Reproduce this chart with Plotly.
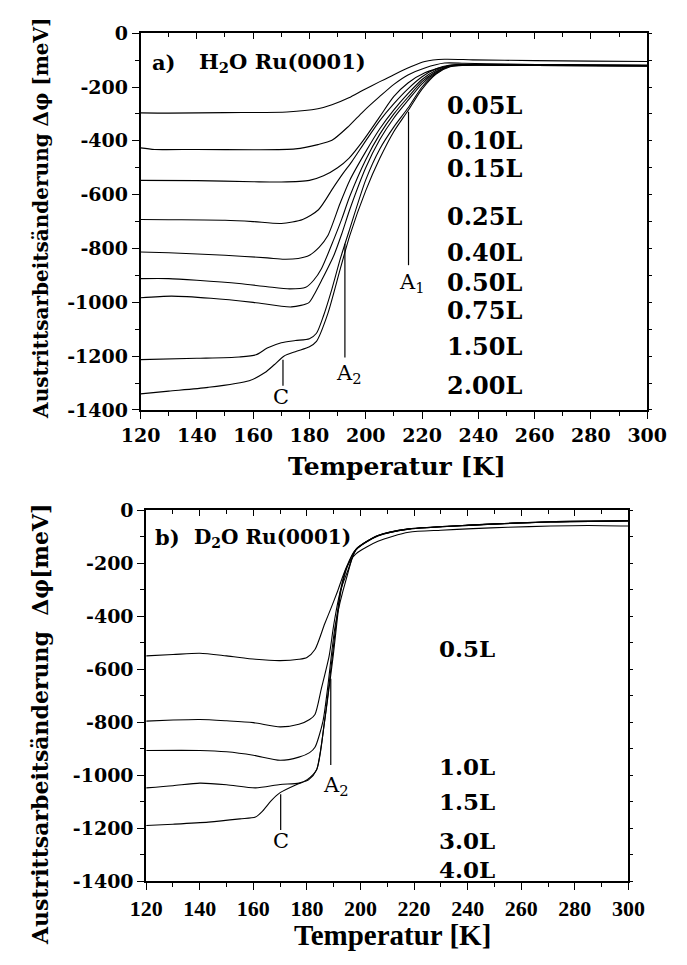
import plotly.graph_objects as go

# ---------------- (a) H2O on Ru(0001) ----------------
h2o_labels = ["0.05L", "0.10L", "0.15L", "0.25L", "0.40L", "0.50L", "0.75L", "1.50L", "2.00L"]
h2o_label_y = [-268, -400, -504, -680, -813, -925, -1031, -1164, -1310]

h2o_005_T = [120, 130, 150, 172, 183, 188, 194, 199, 205, 210, 216, 221, 228, 238, 260, 280, 300]
h2o_005_v = [-296, -297, -295, -293, -281, -266, -240, -212, -180, -154, -125, -105, -97, -99, -102, -104, -105]

h2o_010_T = [120, 125, 140, 160, 175, 183, 188, 194, 199, 205, 210, 215, 221, 228, 235, 250, 270, 300]
h2o_010_v = [-426, -432, -432, -433, -430, -414, -398, -345, -292, -235, -190, -155, -129, -111, -112, -115, -117, -118]

h2o_015_T = [120, 140, 160, 170, 180, 185, 190, 194, 199, 205, 210, 215, 221, 230, 240, 260, 300]
h2o_015_v = [-547, -548, -552, -553, -547, -530, -500, -465, -400, -310, -235, -185, -147, -120, -117, -118, -120]

h2o_025_T = [120, 130, 150, 160, 170, 177.6, 183.2, 188.7, 192, 195, 200, 205, 210, 215, 220, 225, 230, 240, 260, 280, 300]
h2o_025_v = [-692, -693, -695, -700, -707, -692, -656, -570, -520, -478, -400, -325, -262, -207, -162, -132, -118, -116, -118, -119, -120]

h2o_040_T = [120, 130, 150, 165, 171, 176, 180, 183.5, 186.5, 190.9, 194.3, 200, 205, 210, 215, 220, 225, 230, 240, 260, 300]
h2o_040_v = [-813, -816, -825, -835, -840, -837, -825, -795, -753, -632, -547, -440, -355, -285, -225, -172, -138, -120, -117, -119, -121]

h2o_050_T = [120, 130, 140, 155, 165, 173, 178.7, 181.5, 184.3, 188.7, 191.5, 194.3, 200, 205, 210, 215, 220, 225, 230, 240, 260, 300]
h2o_050_v = [-912, -912, -918, -930, -942, -950, -944, -918, -874, -765, -690, -607, -470, -375, -300, -238, -180, -142, -121, -117, -119, -121]

h2o_075_T = [120, 131, 145, 160, 173.6, 179.8, 182, 184.3, 188.7, 191.5, 194.3, 200, 205, 210, 215, 220, 225, 230, 240, 260, 300]
h2o_075_v = [-983, -977, -985, -1000, -1017, -1001, -965, -919, -825, -745, -656, -500, -395, -315, -250, -188, -146, -122, -118, -120, -122]

h2o_150_T = [120, 140, 155, 161, 165, 170, 175, 180, 182.5, 185, 188, 191, 194.3, 200, 205, 210, 215, 220, 225, 230, 240, 260, 300]
h2o_150_v = [-1213, -1208, -1203, -1195, -1170, -1150, -1142, -1135, -1115, -1050, -950, -837, -728, -545, -430, -348, -278, -200, -150, -123, -118, -120, -122]

h2o_200_T = [120, 130, 144, 158.6, 164.2, 167.5, 170.9, 175.4, 180, 182.5, 186.5, 191, 194.3, 200, 205, 210, 215, 220, 225, 230, 240, 260, 300]
h2o_200_v = [-1340, -1330, -1316, -1291, -1261, -1232, -1200, -1182, -1165, -1145, -1043, -874, -753, -585, -465, -365, -288, -208, -152, -125, -118, -120, -122]

h2o_T = [h2o_005_T, h2o_010_T, h2o_015_T, h2o_025_T, h2o_040_T, h2o_050_T, h2o_075_T, h2o_150_T, h2o_200_T]
h2o_v = [h2o_005_v, h2o_010_v, h2o_015_v, h2o_025_v, h2o_040_v, h2o_050_v, h2o_075_v, h2o_150_v, h2o_200_v]

# ---------------- (b) D2O on Ru(0001) ----------------
d2o_labels = ["0.5L", "1.0L", "1.5L", "3.0L", "4.0L"]
d2o_label_y = [-521, -967, -1100, -1245, -1355]

d2o_05_T = [120, 130, 140, 150, 160.8, 170, 177, 180, 183, 186.6, 189, 191.3, 194.8, 198.3, 206.5, 218, 230, 242, 255, 271, 285, 300]
d2o_05_v = [-550, -545, -540, -550, -563, -568, -563, -556, -526, -430, -370, -310, -215, -165, -118, -84, -76, -70, -65, -60, -58, -60]

d2o_10_T = [120, 130, 140, 150, 160, 170, 177, 181, 183, 185.4, 188.3, 190.1, 192.5, 195.4, 198.3, 206.5, 218, 242, 271, 300]
d2o_10_v = [-796, -792, -790, -795, -802, -818, -808, -790, -771, -673, -550, -427, -305, -225, -150, -98, -72, -57, -45, -41]

d2o_15_T = [120, 140, 150, 160, 170, 177, 181, 183, 186, 187.7, 190.7, 194.8, 198.3, 206.5, 218, 242, 271, 300]
d2o_15_v = [-907, -907, -912, -925, -944, -932, -915, -895, -796, -673, -427, -256, -150, -97, -72, -57, -45, -41]

d2o_30_T = [120, 130, 140, 150, 160.8, 170, 177, 180.1, 183.6, 186.6, 189.5, 192.5, 195, 198.3, 206.5, 218, 242, 271, 300]
d2o_30_v = [-1048, -1040, -1030, -1036, -1048, -1035, -1030, -1017, -980, -796, -550, -305, -210, -148, -96, -71, -56, -44, -40]

d2o_40_T = [120, 130, 143.2, 155, 160.8, 163.5, 166.6, 170, 176, 180.7, 183.6, 186.6, 189.8, 192.7, 195.2, 198.3, 206.5, 218, 242, 271, 300]
d2o_40_v = [-1190, -1185, -1177, -1165, -1158, -1135, -1097, -1066, -1036, -1017, -980, -796, -550, -305, -210, -148, -96, -71, -56, -44, -40]

d2o_T = [d2o_05_T, d2o_10_T, d2o_15_T, d2o_30_T, d2o_40_T]
d2o_v = [d2o_05_v, d2o_10_v, d2o_15_v, d2o_30_v, d2o_40_v]

x_ticks = list(range(120, 301, 20))
x_ticktext = [str(t) for t in x_ticks]
y_ticks = list(range(-1400, 1, 200))
y_ticktext = [str(t) for t in y_ticks]   # plain hyphen as minus sign

W, H = 687, 965
SERIF = "DejaVu Serif"

fig = go.Figure()

for T, v in zip(h2o_T, h2o_v):
    fig.add_trace(go.Scatter(x=T, y=v, mode="lines", xaxis="x", yaxis="y",
                             line=dict(color="black", width=1.1, shape="spline", smoothing=0.7),
                             showlegend=False, hoverinfo="skip"))
for T, v in zip(d2o_T, d2o_v):
    fig.add_trace(go.Scatter(x=T, y=v, mode="lines", xaxis="x2", yaxis="y2",
                             line=dict(color="black", width=1.1, shape="spline", smoothing=0.7),
                             showlegend=False, hoverinfo="skip"))

# panel geometry (paper fractions)
top_x = [128 / W, 666 / W]
top_y = [1 - 408.3 / H, 1 - 22.7 / H]
bot_x = [134 / W, 646 / W]
bot_y = [1 - 890.5 / H, 1 - 510.7 / H]

tickfont = dict(family=SERIF, size=19, color="black", weight="bold")
bot_xfont = dict(family="Liberation Serif", size=22, color="black", weight="bold")


def xax(domain, anchor, font, **kw):
    return dict(domain=domain, anchor=anchor, range=[120, 300], tickvals=x_ticks, ticktext=x_ticktext,
                ticks="outside", ticklen=7, tickwidth=1.3, tickcolor="black",
                minor=dict(dtick=10, tick0=120, ticks="outside", ticklen=4, tickwidth=1.2, tickcolor="black"),
                showline=True, linecolor="black", linewidth=1.6, showgrid=False, zeroline=False,
                tickfont=font, fixedrange=True, **kw)


def yax(domain, anchor, **kw):
    return dict(domain=domain, anchor=anchor, range=[-1400, 0], tickvals=y_ticks, ticktext=y_ticktext,
                ticks="outside", ticklen=7, tickwidth=1.3, tickcolor="black",
                minor=dict(dtick=100, tick0=0, ticks="outside", ticklen=4, tickwidth=1.2, tickcolor="black"),
                showline=True, linecolor="black", linewidth=1.6, showgrid=False, zeroline=False,
                tickfont=tickfont, fixedrange=True, **kw)


def xmirror(domain, anchor, over):
    return dict(domain=domain, anchor=anchor, overlaying=over, side="top", range=[120, 300],
                tickvals=x_ticks, ticks="inside", ticklen=6, tickwidth=1.2, tickcolor="black",
                minor=dict(dtick=10, tick0=120, ticks="inside", ticklen=4, tickwidth=1.1, tickcolor="black"),
                showticklabels=False, showline=True, linecolor="black", linewidth=1.6,
                showgrid=False, zeroline=False, fixedrange=True)


def ymirror(domain, anchor, over):
    return dict(domain=domain, anchor=anchor, overlaying=over, side="right", range=[-1400, 0],
                tickvals=y_ticks, ticks="outside", ticklen=3, tickwidth=1.1, tickcolor="black",
                minor=dict(dtick=100, tick0=0, ticks="outside", ticklen=3, tickwidth=1.1, tickcolor="black"),
                showticklabels=False, showline=True, linecolor="black", linewidth=1.6,
                showgrid=False, zeroline=False, fixedrange=True)


fig.update_layout(
    width=W, height=H, margin=dict(l=0, r=0, t=0, b=0),
    paper_bgcolor="white", plot_bgcolor="white",
    xaxis=xax(top_x, "y", tickfont),
    yaxis=yax(top_y, "x"),
    xaxis2=xax(bot_x, "y2", bot_xfont),
    yaxis2=yax(bot_y, "x2"),
    xaxis3=xmirror(top_x, "y", "x"),
    yaxis3=ymirror(top_y, "x", "y"),
    xaxis4=xmirror(bot_x, "y2", "x2"),
    yaxis4=ymirror(bot_y, "x2", "y2"),
)
# empty traces so the mirror axes are drawn
fig.add_trace(go.Scatter(x=[None], y=[None], xaxis="x3", yaxis="y3", showlegend=False))
fig.add_trace(go.Scatter(x=[None], y=[None], xaxis="x4", yaxis="y4", showlegend=False))

shapes = []
annotations = []


def marker(xref, yref, x, y0, y1):
    shapes.append(dict(type="line", xref=xref, yref=yref, x0=x, x1=x, y0=y0, y1=y1,
                       line=dict(color="black", width=1.2)))


def label(xref, yref, x, y, text, size=22, xanchor="center", family=SERIF, bold=False):
    annotations.append(dict(xref=xref, yref=yref, x=x, y=y, text=text, showarrow=False,
                            xanchor=xanchor, yanchor="middle",
                            font=dict(family=family, size=size, color="black",
                                      weight="bold" if bold else "normal")))


# panel (a) markers
marker("x", "y", 215.2, -292, -862)
marker("x", "y", 192.6, -782, -1205)
marker("x", "y", 170.6, -1213, -1310)
label("x", "y", 216.5, -930, "A<sub>1</sub>", size=21)
label("x", "y", 194.0, -1265, "A<sub>2</sub>", size=21)
label("x", "y", 169.8, -1350, "C", size=21)
for name, yv in zip(h2o_labels, h2o_label_y):
    label("x", "y", 228.3, yv, name, size=24, xanchor="left", bold=True)
label("x", "y", 123.5, -110, "a)", size=21, xanchor="left", bold=True)
label("x", "y", 140.0, -110, "H<sub>2</sub>O Ru(0001)", size=21, xanchor="left", bold=True)

# panel (b) markers
marker("x2", "y2", 188.9, -636, -962)
marker("x2", "y2", 170.2, -1072, -1207)
label("x2", "y2", 190.8, -1041, "A<sub>2</sub>", size=21)
label("x2", "y2", 170.2, -1248, "C", size=21)
for name, yv in zip(d2o_labels, d2o_label_y):
    label("x2", "y2", 228.7, yv, name, size=23, xanchor="left", bold=True)
label("x2", "y2", 122.5, -105, "b)", size=21, xanchor="left", bold=True)
label("x2", "y2", 137.0, -105, "D<sub>2</sub>O Ru(0001)", size=20, xanchor="left", bold=True)

# axis titles
annotations.append(dict(xref="paper", yref="paper", x=22 / W, y=1 - 212 / H, textangle=-90,
                        text="Austrittsarbeitsänderung Δφ [meV]", showarrow=False,
                        xanchor="center", yanchor="middle",
                        font=dict(family=SERIF, size=20, color="black", weight="bold")))
annotations.append(dict(xref="paper", yref="paper", x=22 / W, y=1 - 730 / H, textangle=-90,
                        text="Austrittsarbeitsänderung  Δφ[meV]", showarrow=False,
                        xanchor="center", yanchor="middle",
                        font=dict(family=SERIF, size=22, color="black", weight="bold")))
annotations.append(dict(xref="paper", yref="paper", x=400 / W, y=1 - 466 / H,
                        text="Temperatur [K]", showarrow=False, xanchor="center", yanchor="middle",
                        font=dict(family=SERIF, size=25, color="black", weight="bold")))
annotations.append(dict(xref="paper", yref="paper", x=396 / W, y=1 - 946 / H,
                        text="Temperatur [K]", showarrow=False, xanchor="center", yanchor="middle",
                        font=dict(family="Liberation Serif", size=29, color="black", weight="bold")))

fig.update_layout(shapes=shapes, annotations=annotations)
fig.write_html("out.html")
